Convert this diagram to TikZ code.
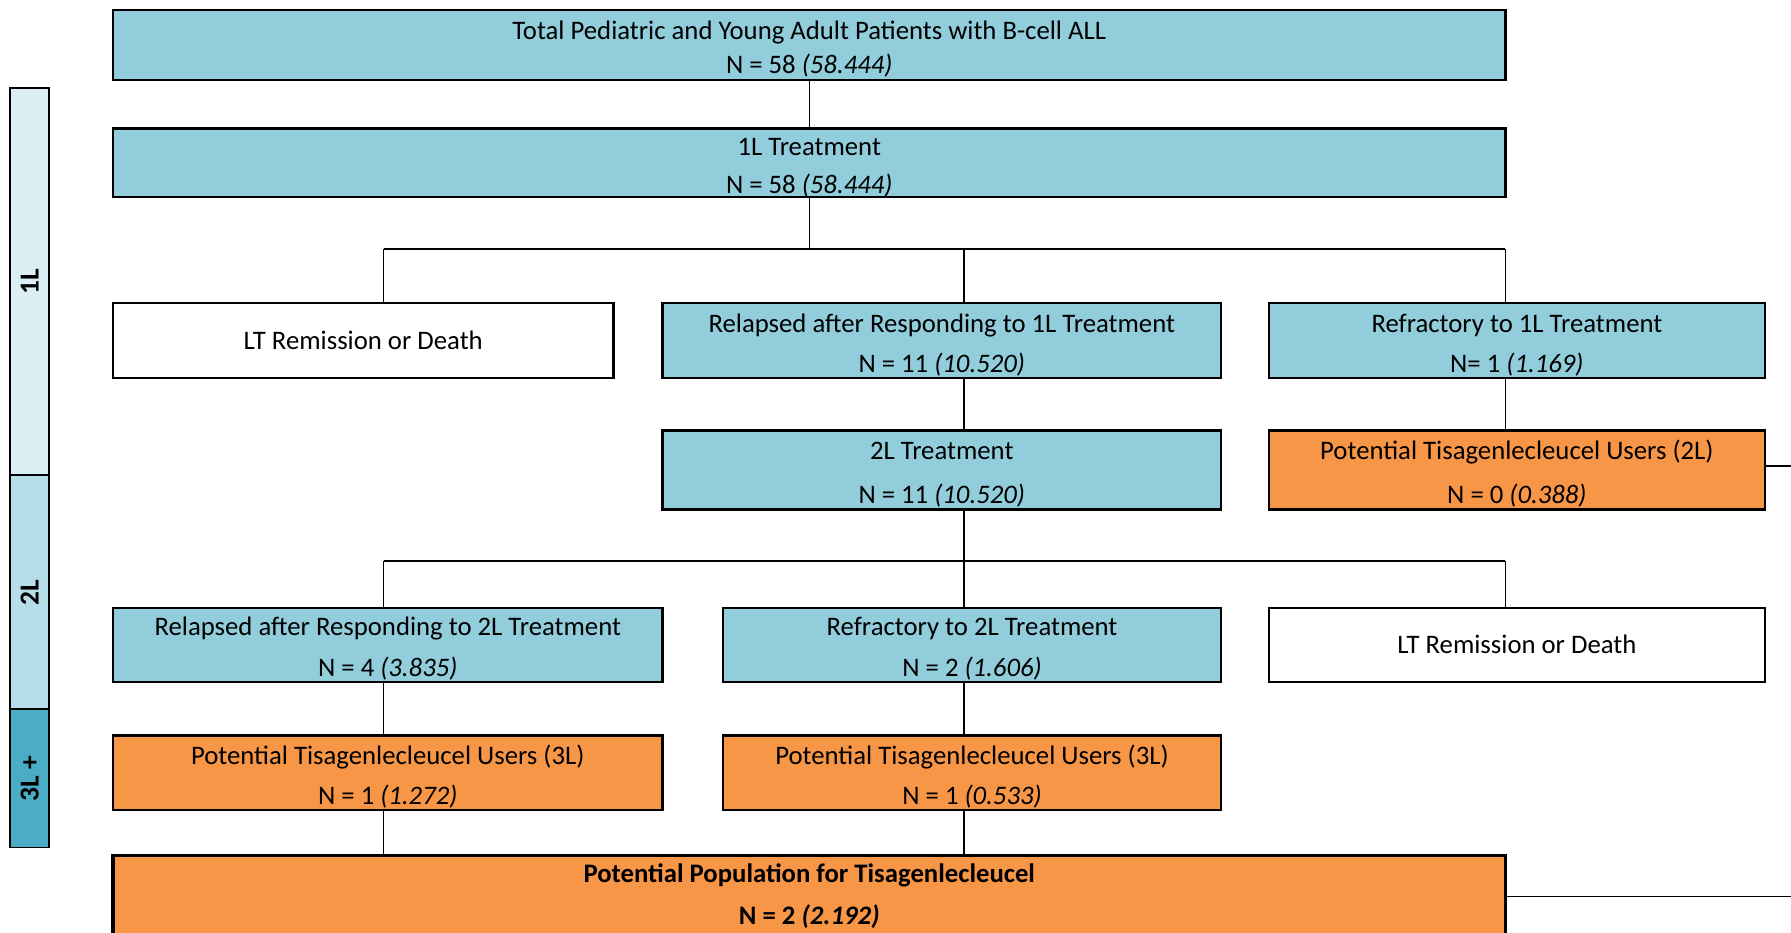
\documentclass[tikz,border=0pt]{standalone}
\usepackage{fontspec}
\setmainfont{Carlito}
\usetikzlibrary{positioning}
\definecolor{cellblue}{HTML}{92CDDC}
\definecolor{cellorange}{HTML}{F79646}
\definecolor{lineA}{HTML}{DAEEF3}
\definecolor{lineB}{HTML}{B7DEE8}
\definecolor{lineC}{HTML}{4BACC6}
\tikzset{
  flowbox/.style={draw, line width=1pt, inner sep=0pt, align=center},
  lvlbar/.style={draw, line width=0.75pt, rotate=90, minimum height=17pt, inner sep=0pt, font=\fontsize{12}{14}\selectfont\bfseries},
  link/.style={line width=0.6pt}}
\newcommand{\nval}[2]{N = #1 \textit{(#2)}}
\newcommand{\hdrule}{\rule{0pt}{11.8pt}}% pushes a two-line text down a little

\begin{document}
\begin{tikzpicture}[x=0.5pt, y=-0.5pt,
  two/.style={font=\fontsize{11.7}{#1}\selectfont}]
\useasboundingbox (0,0) rectangle (1568,816);
\clip (0,0) rectangle (1568,816);
% line-of-therapy bar
\node[lvlbar, fill=lineA, minimum width=169.5pt] (lv1) at (26,246.5) {1L};
\node[lvlbar, fill=lineB, minimum width=102.5pt] (lv2) at (26,518.5) {2L};
\node[lvlbar, fill=lineC, minimum width=60.5pt] (lv3) at (26,681.5) {3L +};
% first line
\node[flowbox, two=15pt, fill=cellblue, minimum width=609.5pt, minimum height=30.5pt] (tot) at (708.5,39.5)
  {\hdrule Total Pediatric and Young Adult Patients with B-cell ALL\\ \nval{58}{58.444}};
\node[flowbox, two=16.5pt, fill=cellblue, minimum width=609.5pt, minimum height=29.5pt] (trt1) at (708.5,142.5)
  {\hdrule 1L Treatment\\ \nval{58}{58.444}};
\node[flowbox, two=17.5pt, fill=white, minimum width=219pt, minimum height=33pt] (lta) at (318,298)
  {LT Remission or Death};
\node[flowbox, two=17.5pt, fill=cellblue, minimum width=244.5pt, minimum height=33pt] (rel1) at (824.5,298)
  {\hdrule Relapsed after Responding to 1L Treatment\\ \nval{11}{10.520}};
\node[flowbox, two=17.5pt, fill=cellblue, minimum width=217pt, minimum height=33pt] (ref1) at (1328,298)
  {\hdrule Refractory to 1L Treatment\\ N= 1 \textit{(1.169)}};
% second line
\node[flowbox, two=19.5pt, fill=cellblue, minimum width=244.5pt, minimum height=34.5pt] (trt2) at (824.5,411.5)
  {\hdrule 2L Treatment\\ \nval{11}{10.520}};
\node[flowbox, two=19.5pt, fill=cellorange, minimum width=217pt, minimum height=34.5pt] (pot2) at (1328,411.5)
  {\hdrule Potential Tisagenlecleucel Users (2L)\\ \nval{0}{0.388}};
\node[flowbox, two=18pt, fill=cellblue, minimum width=240.5pt, minimum height=32.5pt] (rel2) at (339.5,564.5)
  {\hdrule Relapsed after Responding to 2L Treatment\\ \nval{4}{3.835}};
\node[flowbox, two=18pt, fill=cellblue, minimum width=218pt, minimum height=32.5pt] (ref2) at (851,564.5)
  {\hdrule Refractory to 2L Treatment\\ \nval{2}{1.606}};
\node[flowbox, two=18pt, fill=white, minimum width=217pt, minimum height=32.5pt] (ltb) at (1328,564.5)
  {LT Remission or Death};
% third line
\node[flowbox, two=17.5pt, fill=cellorange, minimum width=240.5pt, minimum height=32.5pt] (pot3a) at (339.5,676.5)
  {\hdrule Potential Tisagenlecleucel Users (3L)\\ \nval{1}{1.272}};
\node[flowbox, two=17.5pt, fill=cellorange, minimum width=218pt, minimum height=32.5pt] (pot3b) at (851,676.5)
  {\hdrule Potential Tisagenlecleucel Users (3L)\\ \nval{1}{0.533}};
\node[flowbox, two=18pt, line width=1.5pt, fill=cellorange, minimum width=609.5pt, minimum height=35.5pt] (potall) at (708.5,784.5)
  {\bfseries Potential Population for Tisagenlecleucel\\ \bfseries\nval{2}{2.192}};
% buses
\coordinate (bus1) at (708.5,218);
\coordinate (bus1L) at (336,218);
\coordinate (bus1M) at (844,218);
\coordinate (bus1R) at (1318,218);
\coordinate (bus2) at (844,491);
\coordinate (bus2L) at (336,491);
\coordinate (bus2R) at (1318,491);
\coordinate (outA) at (1568,408);
\coordinate (outB) at (1568,785);
\draw[link] (tot) -- (trt1);
\draw[link] (trt1.south) -- (bus1);
\draw[link] (bus1L) -- (bus1R);
\draw[link] (bus1L) -- (bus1L |- lta.north);
\draw[link] (bus1M) -- (bus1M |- rel1.north);
\draw[link] (bus1R) -- (bus1R |- ref1.north);
\draw[link] (bus1M |- rel1.south) -- (bus1M |- trt2.north);
\draw[link] (bus1R |- ref1.south) -- (bus1R |- pot2.north);
\draw[link] (pot2.east |- outA) -- (outA);
\draw[link] (bus2 |- trt2.south) -- (bus2);
\draw[link] (bus2L) -- (bus2R);
\draw[link] (bus2L) -- (bus2L |- rel2.north);
\draw[link] (bus2) -- (bus2 |- ref2.north);
\draw[link] (bus2R) -- (bus2R |- ltb.north);
\draw[link] (bus2L |- rel2.south) -- (bus2L |- pot3a.north);
\draw[link] (bus2 |- ref2.south) -- (bus2 |- pot3b.north);
\draw[link] (bus2L |- pot3a.south) -- (bus2L |- potall.north);
\draw[link] (bus2 |- pot3b.south) -- (bus2 |- potall.north);
\draw[link] (potall.east |- outB) -- (outB);
\end{tikzpicture}
\end{document}
